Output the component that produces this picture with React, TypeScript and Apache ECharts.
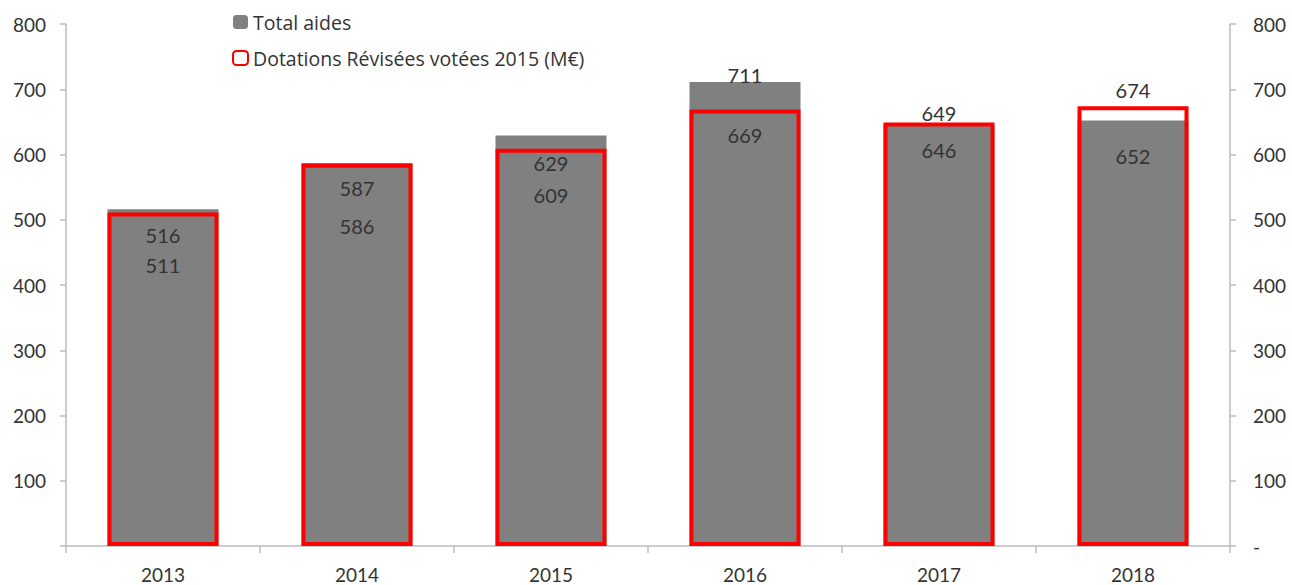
import React, { useEffect, useRef } from "react";
import * as echarts from "echarts";

const years = ["2013", "2014", "2015", "2016", "2017", "2018"];
const totalAides = [516, 587, 629, 711, 646, 652];
const dotations = [511, 586, 609, 669, 649, 674];

// label vertical offsets (px, from bar top to label centre)
const totalLabelDy = [26, 25, 27, -7, 26, 35];
const dotLabelDy = [52, 62, 46, 26, -10, -16];

const FONT = "Lato, 'Open Sans', sans-serif";
const LEGEND_FONT = "'Open Sans', Lato, sans-serif";

export default function App() {
  const ref = useRef<HTMLDivElement>(null);
  useEffect(() => {
    if (!ref.current) return;
    const chart = echarts.init(ref.current, undefined, { renderer: "svg" });
    const lbl = (dy: number) => ({
      show: true,
      position: "top",
      distance: 0,
      verticalAlign: "middle",
      offset: [0, dy],
      color: "#333",
      fontSize: 20,
      fontFamily: FONT,
    });
    const axisCommon = {
      type: "value",
      min: 0,
      max: 800,
      interval: 100,
      splitLine: { show: false },
      axisLine: { show: true, lineStyle: { color: "#bdbdbd", width: 1.5 } },
      axisTick: { show: true, length: 6, lineStyle: { color: "#bdbdbd", width: 1.5 } },
    };
    chart.setOption({
      animation: false,
      textStyle: { fontFamily: FONT },
      legend: {
        orient: "vertical",
        left: 227,
        top: 7,
        itemWidth: 15,
        itemHeight: 14,
        itemGap: 16,
        textStyle: { fontSize: 19.5, color: "#333", fontFamily: LEGEND_FONT },
        data: [
          { name: "Total aides" },
          { name: "Dotations Révisées votées 2015 (M€)" },
        ],
      },
      grid: { left: 66, right: 62, top: 24, bottom: 39 },
      xAxis: {
        type: "category",
        data: years,
        axisLine: { lineStyle: { color: "#bdbdbd", width: 1.5 } },
        axisTick: { show: true, length: 7, lineStyle: { color: "#bdbdbd", width: 1.5 } },
        axisLabel: { color: "#333", fontSize: 19, margin: 19, fontFamily: FONT },
      },
      yAxis: [
        {
          ...axisCommon,
          position: "left",
          axisLabel: {
            color: "#333",
            fontSize: 19,
            margin: 20,
            fontFamily: FONT,
            formatter: (v: number) => (v === 0 ? "" : String(v)),
          },
        },
        {
          ...axisCommon,
          position: "right",
          axisLabel: {
            color: "#333",
            fontSize: 19,
            margin: 23,
            fontFamily: FONT,
            formatter: (v: number) => (v === 0 ? "-" : String(v)),
          },
        },
      ],
      series: [
        {
          name: "Total aides",
          type: "bar",
          barWidth: 111,
          barGap: "-100%",
          itemStyle: { color: "#808080" },
          data: totalAides.map((v, i) => ({ value: v, label: lbl(totalLabelDy[i]) })),
        },
        {
          name: "Dotations Révisées votées 2015 (M€)",
          type: "bar",
          barWidth: 111,
          itemStyle: { color: "rgba(0,0,0,0)", borderColor: "#ff0000", borderWidth: 4 },
          data: dotations.map((v, i) => ({ value: v, label: lbl(dotLabelDy[i]) })),
        },
      ],
    });
    return () => chart.dispose();
  }, []);
  return (
    <div
      ref={ref}
      style={{ position: "absolute", left: 0, top: 0, width: 1292, height: 585, background: "#fff" }}
    />
  );
}
